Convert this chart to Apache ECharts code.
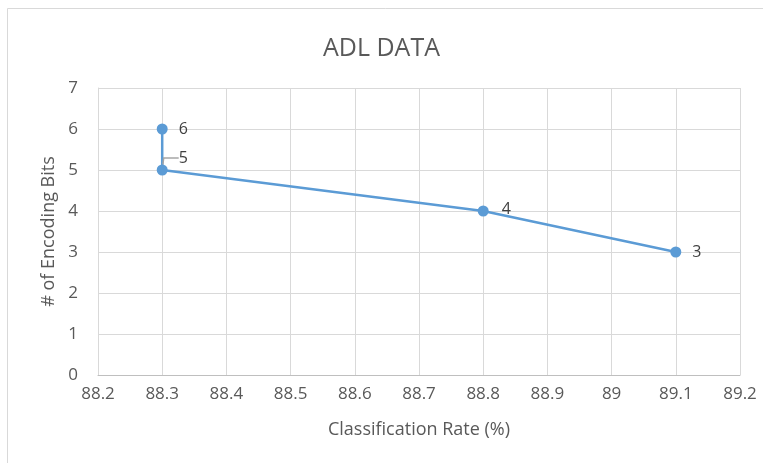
<!DOCTYPE html>
<html>
<head>
<meta charset="utf-8">
<style>
  html, body { margin: 0; padding: 0; background: #ffffff; }
  #chart { width: 763px; height: 463px; }
</style>
<script src="https://cdn.jsdelivr.net/npm/echarts@6/dist/echarts.min.js"></script>
</head>
<body>
<div id="chart"></div>
<script>
// Classification rate (%) against number of encoding bits
const classificationRate = [88.3, 88.3, 88.8, 89.1];
const encodingBits = [6, 5, 4, 3];
const pointLabels = ['6', '5', '4', '3'];

const textColor = '#595959';
const font = '"Open Sans", "Noto Sans", sans-serif';

const chart = echarts.init(document.getElementById('chart'));

// Only the "5" label is lifted off its point, so only it gets a leader line
const seriesData = classificationRate.map((x, i) => ({
  value: [x, encodingBits[i]],
  label: { formatter: pointLabels[i] },
  labelLine: { show: i === 1 }
}));

chart.setOption({
  animation: false,
  backgroundColor: '#ffffff',
  graphic: [{
    type: 'rect',
    shape: { x: 7.5, y: 8.5, width: 800, height: 500 },
    style: { fill: 'none', stroke: '#d9d9d9', lineWidth: 1 },
    silent: true,
    z: -1
  }],
  title: {
    text: 'ADL DATA',
    left: 'center',
    top: 31,
    textStyle: { color: textColor, fontSize: 25, fontWeight: 'normal', fontFamily: font }
  },
  grid: { left: 98, right: 23, top: 88, bottom: 88 },
  xAxis: {
    type: 'value',
    min: 88.2,
    max: 89.2,
    interval: 0.1,
    name: 'Classification Rate (%)',
    nameLocation: 'middle',
    nameGap: 46,
    nameTextStyle: { color: textColor, fontSize: 18, fontFamily: font },
    axisLine: { show: true, lineStyle: { color: '#bfbfbf', width: 1 } },
    axisTick: { show: false },
    axisLabel: {
      color: textColor, fontSize: 17, fontFamily: font, margin: 11,
      formatter: v => String(Math.round(v * 10) / 10)
    },
    splitLine: { show: true, lineStyle: { color: '#d9d9d9', width: 1 } }
  },
  yAxis: {
    type: 'value',
    min: 0,
    max: 7,
    interval: 1,
    name: '# of Encoding Bits',
    nameLocation: 'middle',
    nameGap: 32,
    nameTextStyle: { color: textColor, fontSize: 18, fontFamily: font },
    axisLine: { show: true, lineStyle: { color: '#d9d9d9', width: 1 } },
    axisTick: { show: false },
    axisLabel: { color: textColor, fontSize: 17, fontFamily: font, margin: 20 },
    splitLine: { show: true, lineStyle: { color: '#d9d9d9', width: 1 } }
  },
  series: [{
    type: 'line',
    data: seriesData,
    symbol: 'circle',
    symbolSize: 11,
    itemStyle: { color: '#5b9bd5' },
    lineStyle: { color: '#5b9bd5', width: 2.5 },
    label: {
      show: true,
      position: 'right',
      distance: 11,
      color: '#404040',
      fontSize: 16,
      fontFamily: font
    },
    labelLine: { show: false, length2: 15, minTurnAngle: 90, lineStyle: { color: '#a6a6a6', width: 1.5 } },
    labelLayout: params => {
      if (params.dataIndex === 1) return { dy: -12 };
      if (params.dataIndex === 2) return { dy: -2, dx: 2 };
      return {};
    }
  }]
});
</script>
</body>
</html>
